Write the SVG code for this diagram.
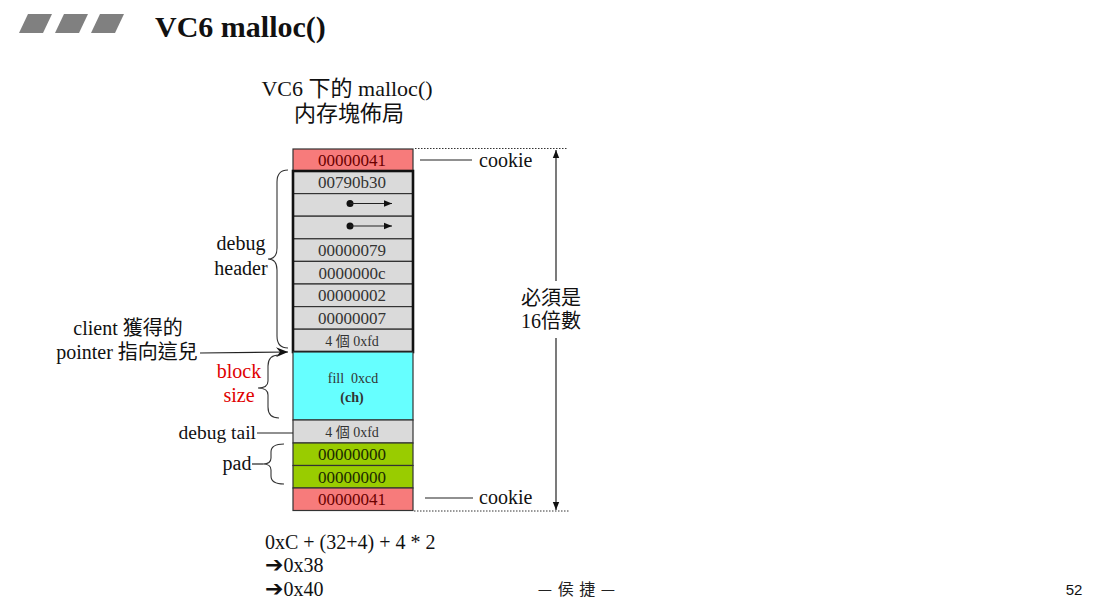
<svg xmlns="http://www.w3.org/2000/svg" width="1111" height="614" viewBox="0 0 1111 614">
<defs>
<style>
.cjk{font-family:"Liberation Serif","Noto Sans CJK TC",serif;}
.cell{stroke:#333;stroke-width:1.2;}
.ck{fill:#f77b7b;}
.gr{fill:#dadada;}
.cy{fill:#66ffff;}
.gn{fill:#99cc00;}
.ct{font-family:"Liberation Serif",serif;font-size:17px;text-anchor:middle;}
.cs{font-family:"Liberation Serif","Noto Sans CJK TC",serif;font-size:14px;text-anchor:middle;fill:#333;}
.lbl{font-family:"Liberation Serif","Noto Sans CJK TC",serif;font-size:20px;}
.ln{stroke:#222;stroke-width:1.2;fill:none;}
.dot{stroke:#333;stroke-width:1;stroke-dasharray:1.5 1.5;fill:none;}
.brace{stroke:#333;stroke-width:1.1;fill:none;}
</style>
<marker id="tri" viewBox="0 0 10 10" refX="10" refY="5" markerWidth="7" markerHeight="7" orient="auto">
<path d="M0,1 L10,5 L0,9 Z" fill="#111"/>
</marker>
<marker id="stealth" viewBox="0 0 12 10" refX="12" refY="5" markerWidth="12" markerHeight="10" markerUnits="userSpaceOnUse" orient="auto">
<path d="M0,0 L12,5 L0,10 L4,5 Z" fill="#111"/>
</marker>
</defs>
<rect width="1111" height="614" fill="#fff"/>

<g id="title">
<polygon points="19,33 28,14 52,14 43,33" fill="#808080"/>
<polygon points="55,33 64,14 88,14 79,33" fill="#808080"/>
<polygon points="91,33 100,14 124,14 115,33" fill="#808080"/>
<text x="155" y="37" font-family="Liberation Serif,serif" font-weight="bold" font-size="30" fill="#111">VC6 malloc()</text>
</g>

<g id="subtitle" class="cjk" font-size="22" text-anchor="middle" fill="#111">
<text x="347" y="96">VC6 下的 malloc()</text>
<text x="349" y="121">内存塊佈局</text>
</g>

<g id="block">
<g id="cookie-top"><rect class="cell ck" x="293" y="149" width="120" height="22"/><text class="ct" x="352" y="166" fill="#6b0000">00000041</text></g>
<g id="row-00790b30"><rect class="cell gr" x="293" y="171" width="120" height="22.6"/><text class="ct" x="352" y="188" fill="#333">00790b30</text></g>
<g id="row-ptr1"><rect class="cell gr" x="293" y="193.6" width="120" height="22.6"/><circle cx="350" cy="203.5" r="3.5" fill="#111"/><line x1="350" y1="203.5" x2="392" y2="203.5" class="ln" marker-end="url(#tri)"/></g>
<g id="row-ptr2"><rect class="cell gr" x="293" y="216.2" width="120" height="22.6"/><circle cx="350" cy="226" r="3.5" fill="#111"/><line x1="350" y1="226" x2="392" y2="226" class="ln" marker-end="url(#tri)"/></g>
<g id="row-00000079"><rect class="cell gr" x="293" y="238.8" width="120" height="22.6"/><text class="ct" x="352" y="256" fill="#333">00000079</text></g>
<g id="row-0000000c"><rect class="cell gr" x="293" y="261.4" width="120" height="22.6"/><text class="ct" x="352" y="279" fill="#333">0000000c</text></g>
<g id="row-00000002"><rect class="cell gr" x="293" y="284" width="120" height="22.6"/><text class="ct" x="352" y="301" fill="#333">00000002</text></g>
<g id="row-00000007"><rect class="cell gr" x="293" y="306.6" width="120" height="22.6"/><text class="ct" x="352" y="324" fill="#333">00000007</text></g>
<g id="row-fd-head"><rect class="cell gr" x="293" y="329.2" width="120" height="22.6"/><text class="cs" x="352" y="346">4 個 0xfd</text></g>
<rect x="293" y="171" width="120" height="181" fill="none" stroke="#111" stroke-width="2.6"/>
<g id="row-fill"><rect class="cell cy" x="293" y="352" width="120" height="68"/><text class="cs" x="353" y="383" xml:space="preserve">fill  0xcd</text><text class="cs" x="352" y="402" font-weight="bold">(ch)</text></g>
<g id="row-fd-tail"><rect class="cell gr" x="293" y="420" width="120" height="23"/><text class="cs" x="352" y="437">4 個 0xfd</text></g>
<g id="row-pad1"><rect class="cell gn" x="293" y="443" width="120" height="22.5"/><text class="ct" x="352" y="460" fill="#1c2a00">00000000</text></g>
<g id="row-pad2"><rect class="cell gn" x="293" y="465.5" width="120" height="22.5"/><text class="ct" x="352" y="483" fill="#1c2a00">00000000</text></g>
<g id="cookie-bottom"><rect class="cell ck" x="293" y="488" width="120" height="22.5"/><text class="ct" x="352" y="505" fill="#6b0000">00000041</text></g>
</g>

<g id="connectors">
<line class="ln" x1="420" y1="160" x2="472" y2="160"/>
<line class="ln" x1="425" y1="498" x2="473" y2="498"/>
<line class="dot" x1="415" y1="148.5" x2="568" y2="148.5"/>
<line class="dot" x1="414" y1="511" x2="570" y2="511"/>
<line class="ln" x1="556" y1="281" x2="556" y2="150" marker-end="url(#tri)"/>
<line class="ln" x1="556" y1="338" x2="556" y2="510" marker-end="url(#tri)"/>
<line class="ln" x1="200" y1="353" x2="288" y2="352" marker-end="url(#stealth)"/>
<line class="ln" x1="257" y1="433" x2="293" y2="433"/>
<line class="ln" x1="252" y1="464" x2="263" y2="464"/>
<path class="brace" d="M288,170 Q277,170 277,182 L277,248 Q277,259 268,259 Q277,259 277,270 L277,336 Q277,348 288,348"/>
<path class="brace" d="M279,355 Q268,355 268,366 L268,381 Q268,388 258,388 Q268,388 268,395 L268,407 Q268,418 279,418"/>
<path class="brace" d="M284,444 Q271,444 271,452 L271,458 Q271,464 263,464 Q271,464 271,470 L271,476 Q271,484 284,484"/>
</g>

<g id="labels">
<text class="lbl" x="479" y="167" style="fill:#111">cookie</text>
<text class="lbl" x="479" y="504" style="fill:#111">cookie</text>
<text class="cjk" x="551" y="305" font-size="20" text-anchor="middle" fill="#111">必須是</text>
<text class="cjk" x="551" y="328" font-size="20" text-anchor="middle" fill="#111">16倍數</text>
<text class="lbl" x="241" y="250" text-anchor="middle" style="fill:#111">debug</text>
<text class="lbl" x="241" y="275" text-anchor="middle" style="fill:#111">header</text>
<text class="cjk" x="128" y="335" font-size="20" text-anchor="middle" fill="#111">client 獲得的</text>
<text class="cjk" x="127" y="359" font-size="20" text-anchor="middle" fill="#111">pointer 指向這兒</text>
<text class="lbl" x="239" y="378" text-anchor="middle" style="fill:#e00000">block</text>
<text class="lbl" x="239" y="402" text-anchor="middle" style="fill:#e00000">size</text>
<text class="lbl" x="256" y="439" text-anchor="end" style="fill:#111;font-size:19.5px">debug tail</text>
<text class="lbl" x="237" y="470" text-anchor="middle" style="fill:#111">pad</text>
</g>

<g id="footer">
<text x="265" y="549" font-family="Liberation Serif,serif" font-size="20" fill="#111">0xC + (32+4) + 4 * 2</text>
<text x="265" y="572" font-family="Liberation Serif,DejaVu Sans,serif" font-size="20" fill="#111"><tspan font-family="DejaVu Sans,sans-serif" font-weight="bold" font-size="22">➔</tspan>0x38</text>
<text x="265" y="596" font-family="Liberation Serif,DejaVu Sans,serif" font-size="20" fill="#111"><tspan font-family="DejaVu Sans,sans-serif" font-weight="bold" font-size="22">➔</tspan>0x40</text>
<text x="577" y="595" font-family="Noto Sans CJK TC,sans-serif" font-size="16" letter-spacing="1" text-anchor="middle" fill="#222">— 侯 捷 —</text>
<text x="1074" y="595" font-family="Liberation Sans,sans-serif" font-size="15" text-anchor="middle" fill="#111">52</text>
</g>
</svg>
